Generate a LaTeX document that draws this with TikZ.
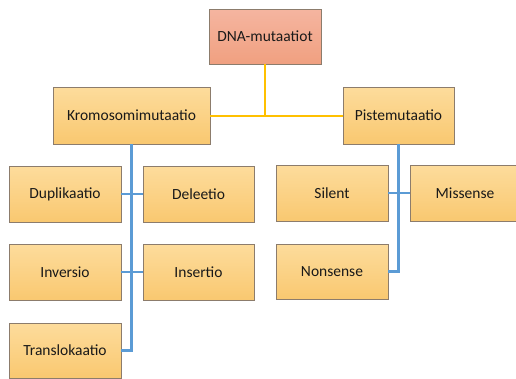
\documentclass[tikz,border=0pt]{standalone}
\usepackage{fontspec}
\setmainfont{Carlito}
\definecolor{boxtop}{HTML}{FDDC9C}
\definecolor{boxbot}{HTML}{F9C870}
\definecolor{redtop}{HTML}{F5B5A0}
\definecolor{redbot}{HTML}{F0A080}
\definecolor{boxline}{HTML}{8C7C6C}
\definecolor{yline}{HTML}{FFC000}
\definecolor{bline}{HTML}{5B9BD5}
\begin{document}
\begin{tikzpicture}[x=1pt,y=-1pt,
  mbox/.style={draw=boxline, line width=0.9pt, top color=boxtop, bottom color=boxbot,
    minimum width=112pt, minimum height=56pt, inner sep=0pt,
    font=\fontsize{15.5}{18}\selectfont, text=black!90},
  rbox/.style={mbox, top color=redtop, bottom color=redbot},
  yconn/.style={draw=yline, line width=2pt},
  bconn/.style={draw=bline, line width=2.4pt}]
\useasboundingbox (0,0) rectangle (516,378);
\node[rbox, minimum height=55pt] (dna) at (265,36.5) {DNA-mutaatiot};
\node[mbox, minimum width=157pt, minimum height=57pt] (kro) at (131.5,115.5) {Kromosomimutaatio};
\node[mbox, minimum width=111pt, minimum height=57pt] (pis) at (398.5,115.5) {Pistemutaatio};
\node[mbox] (dup) at (65,194) {Duplikaatio};
\node[mbox, minimum width=111pt] (del) at (198.5,194) {Deleetio};
\node[mbox] (inv) at (65,272) {Inversio};
\node[mbox, minimum width=111pt] (ins) at (198.5,272) {Insertio};
\node[mbox, minimum height=55pt] (tra) at (65,350.5) {Translokaatio};
\node[mbox] (sil) at (332,193) {Silent};
\node[mbox, minimum width=110pt] (mis) at (465,193) {Missense};
\node[mbox, minimum height=55pt] (non) at (332,271.5) {Nonsense};
\draw[yconn] (kro.east) -- (pis.west);
\draw[yconn] (dna.south) -- (dna.south |- kro.east);
\draw[bconn] (kro.south) -- (kro.south |- tra.east) -- (tra.east);
\draw[bconn] (dup.east) -- (del.west);
\draw[bconn] (inv.east) -- (ins.west);
\draw[bconn] (pis.south) -- (pis.south |- non.east) -- (non.east);
\draw[bconn] (sil.east) -- (mis.west);
\end{tikzpicture}
\end{document}
